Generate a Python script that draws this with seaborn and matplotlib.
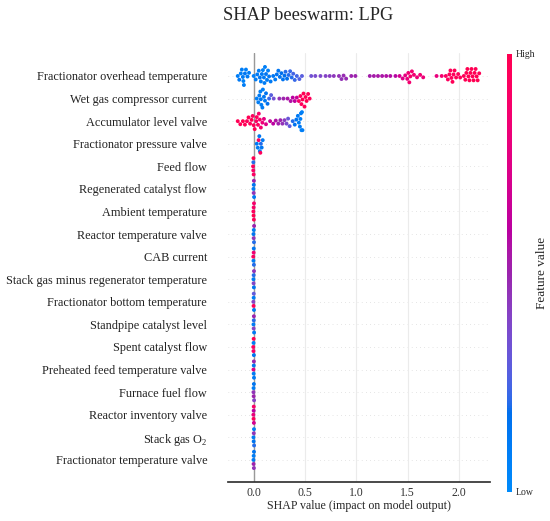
import numpy as np
import pandas as pd
import seaborn as sns
import matplotlib.pyplot as plt
from matplotlib.colors import LinearSegmentedColormap
from matplotlib.cm import ScalarMappable

features = [
    "Fractionator overhead temperature",
    "Wet gas compressor current",
    "Accumulator level valve",
    "Fractionator pressure valve",
    "Feed flow",
    "Regenerated catalyst flow",
    "Ambient temperature",
    "Reactor temperature valve",
    "CAB current",
    "Stack gas minus regenerator temperature",
    "Fractionator bottom temperature",
    "Standpipe catalyst level",
    "Spent catalyst flow",
    "Preheated feed temperature valve",
    "Furnace fuel flow",
    "Reactor inventory valve",
    r"Stack gas O$_\mathrm{2}$",
    "Fractionator temperature valve",
]

# SHAP values and (normalised) feature values
fot_shap = [-0.155, -0.14, -0.125, -0.115, -0.105, -0.10, -0.095, -0.085, -0.075, -0.06, -0.045,
            0.0, 0.02, 0.035, 0.05, 0.06, 0.07, 0.08, 0.09, 0.10, 0.105, 0.11, 0.12, 0.13,
            0.14, 0.15, 0.165,
            0.19, 0.21, 0.225, 0.24, 0.255, 0.27, 0.285, 0.30, 0.31, 0.325, 0.34, 0.355, 0.37, 0.385,
            0.40, 0.42, 0.445, 0.47,
            0.56, 0.60, 0.65, 0.70, 0.74, 0.78, 0.83, 0.855, 0.875, 0.90, 0.95, 0.99,
            1.13, 1.17, 1.21, 1.25, 1.29, 1.33, 1.38,
            1.42, 1.45, 1.475, 1.495, 1.505, 1.515, 1.525, 1.54, 1.56, 1.59, 1.62, 1.65,
            1.78, 1.83,
            1.87, 1.89, 1.905, 1.915, 1.925, 1.935, 1.945, 1.955, 1.97, 1.99, 2.01,
            2.045, 2.06, 2.07, 2.08, 2.09, 2.10, 2.11, 2.12, 2.13, 2.14, 2.15, 2.16, 2.17, 2.18, 2.195]
fot_val = [0.10, 0.12, 0.08, 0.10, 0.12, 0.06, 0.10, 0.14, 0.08, 0.12, 0.10,
           0.08, 0.10, 0.12, 0.10, 0.14, 0.08, 0.12, 0.06, 0.12, 0.10, 0.08, 0.14, 0.10,
           0.08, 0.14, 0.12,
           0.14, 0.12, 0.16, 0.14, 0.16, 0.18, 0.16, 0.18, 0.20, 0.18, 0.20, 0.22, 0.20, 0.24,
           0.22, 0.24, 0.26, 0.28,
           0.34, 0.36, 0.38, 0.40, 0.42, 0.44, 0.46, 0.46, 0.48, 0.48, 0.50, 0.50,
           0.52, 0.53, 0.54, 0.55, 0.56, 0.57, 0.58,
           0.70, 0.74, 0.78, 0.80, 0.84, 0.86, 0.88, 0.86, 0.84, 0.82, 0.84, 0.82,
           0.80, 0.86,
           0.92, 0.94, 0.95, 0.96, 0.95, 0.97, 0.96, 0.98, 0.97, 0.96, 0.95,
           0.97, 0.98, 0.99, 1.0, 0.98, 0.99, 1.0, 0.99, 0.98, 1.0, 0.99, 0.98, 1.0, 0.99, 0.98]

wgc_shap = [0.03, 0.045, 0.055, 0.065, 0.07, 0.075, 0.085, 0.09, 0.10, 0.11, 0.12, 0.135,
            0.15, 0.17, 0.195,
            0.25, 0.29, 0.33, 0.36, 0.38, 0.40, 0.42,
            0.44, 0.455, 0.465, 0.475, 0.485, 0.495, 0.505, 0.515, 0.53, 0.545]
wgc_val = [0.08, 0.10, 0.12, 0.08, 0.14, 0.10, 0.12, 0.08, 0.14, 0.12, 0.16, 0.18,
           0.22, 0.28, 0.34,
           0.46, 0.50, 0.54, 0.56, 0.60, 0.62, 0.66,
           0.90, 0.94, 0.96, 0.98, 1.0, 0.97, 0.99, 1.0, 0.98, 0.96]

alv_shap = [-0.155, -0.13, -0.105, -0.085, -0.065,
            -0.05, -0.035, -0.02, -0.01, 0.0, 0.01, 0.025, 0.03, 0.042, 0.05,
            0.06, 0.07, 0.085, 0.10, 0.12,
            0.16, 0.19, 0.215, 0.24, 0.26, 0.28, 0.30,
            0.32, 0.335, 0.35,
            0.38, 0.40, 0.415, 0.43, 0.44, 0.45, 0.455, 0.46, 0.465, 0.47, 0.475]
alv_val = [0.98, 0.96, 1.0, 0.97, 0.95,
           0.98, 0.96, 1.0, 0.94, 0.97, 0.99, 0.92, 0.96, 0.94, 0.88,
           0.90, 0.86, 0.82, 0.78, 0.74,
           0.64, 0.60, 0.56, 0.52, 0.50, 0.46, 0.42,
           0.36, 0.32, 0.30,
           0.20, 0.16, 0.14, 0.12, 0.10, 0.12, 0.08, 0.10, 0.06, 0.08, 0.10]

fpv_shap = [0.03, 0.04, 0.048, 0.055, 0.06, 0.065, 0.07, 0.078, 0.088]
fpv_val = [0.12, 0.10, 0.92, 0.15, 0.08, 0.96, 0.20, 0.14, 0.10]

ff_shap = [-0.006, -0.004, -0.003, -0.002, 0.0]
ff_val = [0.95, 0.90, 0.20, 1.0, 0.92]
rcf_shap = [-0.002, 0.0, 0.001, 0.002, 0.004]
rcf_val = [0.10, 0.45, 0.15, 0.50, 0.12]
at_shap = [-0.003, -0.001, 0.0, 0.002, 0.003]
at_val = [0.95, 1.0, 0.90, 0.96, 0.88]
rtv_shap = [-0.002, 0.0, 0.001, 0.003, 0.004]
rtv_val = [0.15, 0.45, 0.10, 0.20, 0.50]
cab_shap = [-0.004, -0.002, 0.0, 0.001, 0.002]
cab_val = [0.92, 0.10, 0.85, 0.15, 0.20]
sgm_shap = [-0.002, -0.001, 0.0, 0.002, 0.003]
sgm_val = [0.10, 0.40, 0.20, 0.15, 0.45]
fbt_shap = [-0.003, -0.001, 0.0, 0.001, 0.003]
fbt_val = [0.40, 0.95, 0.10, 0.30, 0.12]
scl_shap = [-0.002, 0.0, 0.001, 0.002, 0.004]
scl_val = [0.10, 0.40, 0.20, 0.50, 0.12]
scf_shap = [-0.004, -0.002, -0.001, 0.0, 0.002]
scf_val = [0.95, 0.90, 0.10, 1.0, 0.15]
pft_shap = [-0.002, 0.0, 0.001, 0.002, 0.003]
pft_val = [0.75, 0.10, 0.15, 0.50, 0.12]
fff_shap = [-0.002, -0.001, 0.0, 0.002, 0.004]
fff_val = [0.45, 0.10, 0.50, 0.15, 0.40]
riv_shap = [-0.003, -0.001, 0.0, 0.001, 0.002]
riv_val = [0.80, 0.95, 0.60, 0.90, 0.70]
sgo_shap = [-0.002, 0.0, 0.001, 0.003, 0.004]
sgo_val = [0.10, 0.15, 0.45, 0.10, 0.20]
ftv_shap = [-0.002, -0.001, 0.0, 0.002, 0.003]
ftv_val = [0.12, 0.50, 0.10, 0.45, 0.15]

rows = [(fot_shap, fot_val), (wgc_shap, wgc_val), (alv_shap, alv_val), (fpv_shap, fpv_val),
        (ff_shap, ff_val), (rcf_shap, rcf_val), (at_shap, at_val), (rtv_shap, rtv_val),
        (cab_shap, cab_val), (sgm_shap, sgm_val), (fbt_shap, fbt_val), (scl_shap, scl_val),
        (scf_shap, scf_val), (pft_shap, pft_val), (fff_shap, fff_val), (riv_shap, riv_val),
        (sgo_shap, sgo_val), (ftv_shap, ftv_val)]
df = pd.concat([pd.DataFrame({"feature": name, "shap": s, "value": v})
                for name, (s, v) in zip(features, rows)], ignore_index=True)


def lch2rgb(l, c, h):
    # CIE LCh -> sRGB (D65), same path as the shap red_blue map
    a, b = c * np.cos(h), c * np.sin(h)
    fy = (l + 16) / 116
    fx, fz = fy + a / 500, fy - b / 200
    finv = lambda t: t ** 3 if t > 6 / 29 else 3 * (6 / 29) ** 2 * (t - 4 / 29)
    xyz = np.array([0.95047 * finv(fx), finv(fy), 1.08883 * finv(fz)])
    m = np.array([[3.2406, -1.5372, -0.4986],
                  [-0.9689, 1.8758, 0.0415],
                  [0.0557, -0.2040, 1.0570]])
    rgb = m @ xyz
    rgb = np.where(rgb > 0.0031308, 1.055 * np.abs(rgb) ** (1 / 2.4) - 0.055, 12.92 * rgb)
    return np.clip(rgb, 0, 1)


nsteps = 100
l_vals = list(np.linspace(54., 40., nsteps // 2)) + list(np.linspace(40., 54., nsteps // 2))
c_vals = np.linspace(70., 90., nsteps)
h_vals = np.linspace(4.6588, 0.35470565 + 2 * np.pi, nsteps)
red_blue = LinearSegmentedColormap.from_list(
    "red_blue", [lch2rgb(l, c, h) for l, c, h in zip(l_vals, c_vals, h_vals)])

sns.set_theme(style="white")
plt.rcParams["font.family"] = ["Liberation Serif", "DejaVu Serif"]
plt.rcParams["mathtext.fontset"] = "custom"
plt.rcParams["mathtext.rm"] = "Liberation Serif"

fig = plt.figure(figsize=(5.5, 5.21), dpi=100)
ax = fig.add_axes([0.4145, 0.0739, 0.4764, 0.8236])

for i in range(len(features)):
    ax.axhline(i, color="#cccccc", lw=0.5, dashes=(1, 5), zorder=0)
ax.axvline(0, color="#999999", lw=1, zorder=1)

sns.swarmplot(data=df, x="shap", y="feature", hue="value", order=features, orient="h",
              palette=red_blue, hue_norm=(0, 1), size=2.8, linewidth=0, legend=False,
              ax=ax, zorder=3)

ax.set_xlim(-0.25, 2.3)
ax.set_ylim(len(features), -1)
ax.set_xticks([0.0, 0.5, 1.0, 1.5, 2.0])
ax.set_xticklabels(["0.0", "0.5", "1.0", "1.5", "2.0"])
ax.grid(axis="x", color="#ebebeb", lw=0.8)
ax.grid(axis="y", visible=False)
ax.set_axisbelow(True)
for side in ["top", "right", "left"]:
    ax.spines[side].set_visible(False)
ax.spines["bottom"].set_color("#333333")
ax.tick_params(axis="y", length=0, pad=15, labelsize=8.8, labelcolor="#222222")
ax.tick_params(axis="x", bottom=True, length=0, pad=3, labelsize=8.5,
               labelcolor="#333333")
ax.set_xlabel("SHAP value (impact on model output)", fontsize=8.6, labelpad=1)
ax.set_ylabel("")

fig.text(0.56, 0.97, "SHAP beeswarm: LPG", fontsize=13.2, ha="center", va="center")

cax = fig.add_axes([0.9218, 0.0557, 0.0091, 0.8407])
sm = ScalarMappable(cmap=red_blue, norm=plt.Normalize(0, 1))
cb = fig.colorbar(sm, cax=cax, ticks=[0, 1])
cb.set_ticklabels(["Low", "High"])
cb.ax.tick_params(labelsize=7, length=0, pad=3)
cb.set_label("Feature value", fontsize=9.5, labelpad=0)
cb.outline.set_visible(False)

fig.savefig("out.png", dpi=100)
